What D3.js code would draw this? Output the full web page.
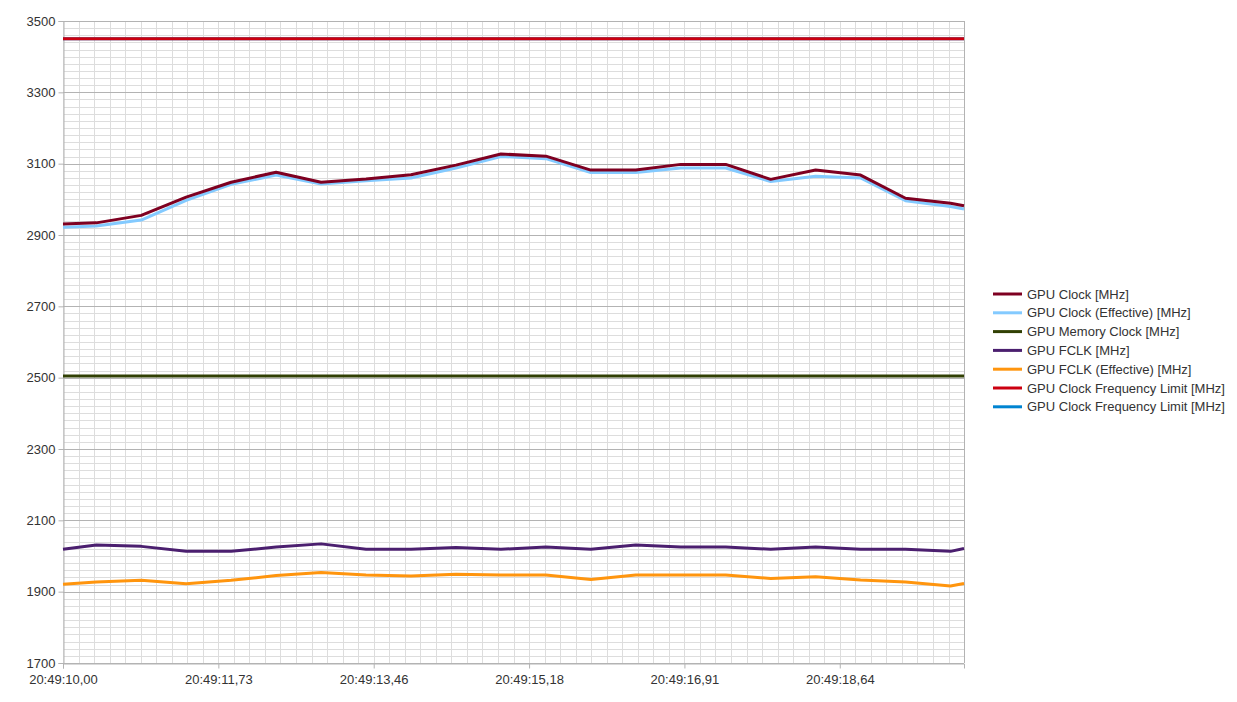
<!DOCTYPE html>
<html lang="en">
<head>
<meta charset="UTF-8">
<title>GPU Clocks</title>
<script src="https://d3js.org/d3.v7.min.js"></script>
<style>
    html, body { margin: 0; padding: 0; background: #fff; }
    svg { display: block; font-family: "Liberation Sans", Arial, sans-serif; }
</style>
</head>
<body>
<svg id="chart"></svg>
<script>
// time in seconds after 20:49:00
const times = [10.00, 10.37, 10.87, 11.37, 11.87, 12.37, 12.87, 13.37, 13.87, 14.37, 14.87,
               15.37, 15.87, 16.37, 16.87, 17.37, 17.87, 18.37, 18.87, 19.37, 19.87, 20.02];

const gpuClock    = [2931, 2934, 2955, 3006, 3048, 3076, 3048, 3057, 3069, 3096, 3127,
                     3121, 3082, 3082, 3098, 3098, 3056, 3082, 3068, 3003, 2989, 2982];
const gpuClockEff = [2922, 2925, 2942, 2997, 3042, 3068, 3043, 3052, 3060, 3088, 3120,
                     3114, 3075, 3075, 3088, 3088, 3050, 3065, 3060, 2996, 2980, 2973];
const memClock    = [2505, 2505, 2505, 2505, 2505, 2505, 2505, 2505, 2505, 2505, 2505,
                     2505, 2505, 2505, 2505, 2505, 2505, 2505, 2505, 2505, 2505, 2505];
const fclk        = [2019, 2031, 2027, 2013, 2013, 2025, 2034, 2019, 2019, 2024, 2019,
                     2025, 2019, 2031, 2025, 2025, 2019, 2025, 2019, 2019, 2013, 2021];
const fclkEff     = [1921, 1927, 1932, 1922, 1932, 1945, 1954, 1947, 1944, 1949, 1947,
                     1947, 1934, 1947, 1947, 1947, 1937, 1942, 1933, 1927, 1916, 1923];
const limit1      = [3450, 3450, 3450, 3450, 3450, 3450, 3450, 3450, 3450, 3450, 3450,
                     3450, 3450, 3450, 3450, 3450, 3450, 3450, 3450, 3450, 3450, 3450];
const limit2      = limit1.slice();

const seriesNames = ["GPU Clock [MHz]", "GPU Clock (Effective) [MHz]", "GPU Memory Clock [MHz]",
                     "GPU FCLK [MHz]", "GPU FCLK (Effective) [MHz]",
                     "GPU Clock Frequency Limit [MHz]", "GPU Clock Frequency Limit [MHz]"];
const seriesColors = ["#7e0021", "#83caff", "#314004", "#4b1f6f", "#ff950e", "#cc0010", "#0084d1"];
const seriesValues = [gpuClock, gpuClockEff, memClock, fclk, fclkEff, limit1, limit2];
// order in which the lines are painted (blue limit hidden below red)
const drawOrder = [6, 5, 2, 4, 3, 1, 0];

const xTicks = [10.00, 11.7277, 13.4554, 15.1831, 16.9108, 18.6385];
const xMinorStep = 0.17277;
const yTicks = [1700, 1900, 2100, 2300, 2500, 2700, 2900, 3100, 3300, 3500];
const yMinorStep = 20;

const width = 1237, height = 702;
const margin = { top: 21, right: 273, bottom: 39, left: 63 };
const innerW = width - margin.left - margin.right;
const innerH = height - margin.top - margin.bottom;

const svg = d3.select("#chart").attr("width", width).attr("height", height);
const g = svg.append("g").attr("transform", `translate(${margin.left},${margin.top})`);

const x = d3.scaleLinear().domain([10.00, 20.02]).range([0, innerW]);
const y = d3.scaleLinear().domain([1700, 3500]).range([innerH, 0]);

// minor grid
const xMinor = d3.range(10.00, 20.02, xMinorStep);
const yMinor = d3.range(1700, 3500 + 1, yMinorStep);
g.append("g").selectAll("line").data(xMinor).join("line")
    .attr("x1", d => Math.round(x(d)) + 0.5).attr("x2", d => Math.round(x(d)) + 0.5)
    .attr("y1", 0).attr("y2", innerH)
    .attr("stroke", "#dddddd").attr("stroke-width", 1);
g.append("g").selectAll("line").data(yMinor).join("line")
    .attr("y1", d => Math.round(y(d)) + 0.5).attr("y2", d => Math.round(y(d)) + 0.5)
    .attr("x1", 0).attr("x2", innerW)
    .attr("stroke", "#dddddd").attr("stroke-width", 1);

// major horizontal grid
g.append("g").selectAll("line").data(yTicks).join("line")
    .attr("y1", d => Math.round(y(d)) + 0.5).attr("y2", d => Math.round(y(d)) + 0.5)
    .attr("x1", 0).attr("x2", innerW)
    .attr("stroke", "#b3b3b3").attr("stroke-width", 1);

// right frame
g.append("line").attr("x1", innerW + 0.5).attr("x2", innerW + 0.5).attr("y1", 0).attr("y2", innerH)
    .attr("stroke", "#b3b3b3");

// axes
const fmtTime = d => {
    const s = d.toFixed(2).replace(".", ",");
    return "20:49:" + (d < 10 ? "0" : "") + s;
};
const xAxis = g.append("g").attr("transform", `translate(0,${innerH + 0.5})`)
    .call(d3.axisBottom(x).tickValues(xTicks).tickFormat(fmtTime).tickSizeOuter(0).tickSize(5).tickPadding(6));
const yAxis = g.append("g").attr("transform", "translate(0.5,0)")
    .call(d3.axisLeft(y).tickValues(yTicks).tickFormat(d3.format("d")).tickSizeOuter(0).tickSize(5).tickPadding(3));
[xAxis, yAxis].forEach(a => {
    a.select(".domain").attr("stroke", "#b3b3b3");
    a.selectAll(".tick line").attr("stroke", "#b3b3b3");
    a.selectAll(".tick text").attr("fill", "#333").attr("font-size", "13px")
        .attr("font-family", "'Liberation Sans', Arial, sans-serif");
});

// lines
const line = d3.line().x((d, i) => x(times[i])).y(d => y(d));
g.append("g").selectAll("path").data(drawOrder).join("path")
    .attr("d", k => line(seriesValues[k]))
    .attr("fill", "none")
    .attr("stroke", k => seriesColors[k])
    .attr("stroke-width", 3)
    .attr("stroke-linejoin", "round");

// legend
const legend = svg.append("g").attr("transform", "translate(993,294)");
const rows = legend.selectAll("g").data(seriesNames).join("g")
    .attr("transform", (d, i) => `translate(0,${i * 18.8})`);
rows.append("line").attr("x1", 0).attr("x2", 29).attr("y1", 0).attr("y2", 0)
    .attr("stroke", (d, i) => seriesColors[i]).attr("stroke-width", 3);
rows.append("text").attr("x", 34).attr("y", 0).attr("dy", "0.35em")
    .attr("font-size", "13px").attr("fill", "#333").text(d => d);
</script>
</body>
</html>
